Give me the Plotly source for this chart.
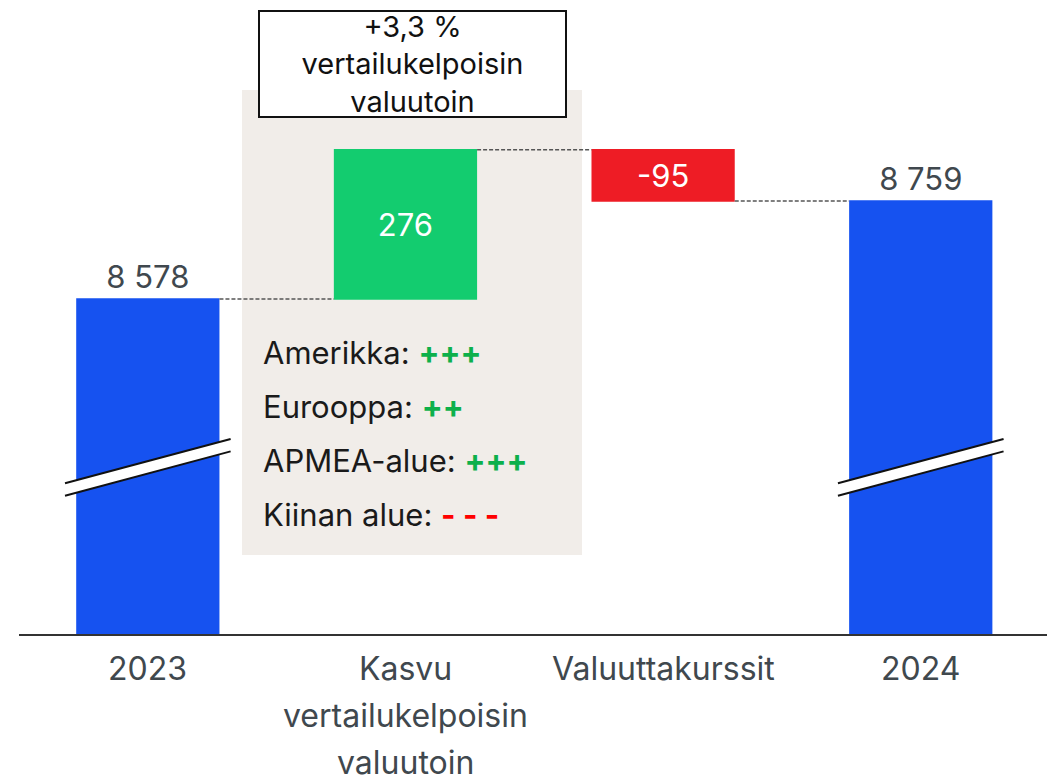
import plotly.graph_objects as go

# ---------------- data ----------------
CATEGORIES = ["2023", "Kasvu vertailukelpoisin valuutoin", "Valuuttakurssit", "2024"]
CATEGORY_LINES = [["2023"], ["Kasvu", "vertailukelpoisin", "valuutoin"], ["Valuuttakurssit"], ["2024"]]
VALUES = [8578, 276, -95, 8759]
MEASURES = ["absolute", "relative", "relative", "total"]
VALUE_LABELS = ["8 578", "276", "-95", "8 759"]
BOX_TEXT = ["+3,3 %", "vertailukelpoisin", "valuutoin"]
REGIONS = ["Amerikka", "Eurooppa", "APMEA-alue", "Kiinan alue"]
REGION_SIGNS = ["+++", "++", "+++", "- - -"]

# ---------------- style ----------------
FONT = "Inter"
BLUE = "#1652F0"
GREEN = "#13CC6F"
RED = "#EE1C25"
BEIGE = "#F1EDE9"
PLUS_GREEN = "#0DB04B"
MINUS_RED = "#FF0000"
LABEL_GRAY = "#40484E"

W, H = 1047, 777
ML, MR, MT, MB = 19, 0, 0, 143
PLOT_H = H - MT - MB
PLOT_W = W - ML - MR
X_RANGE = [-0.5, 3.49]
Y_MIN, Y_MAX = 7958, 9131
PX_PER_CAT = PLOT_W / (X_RANGE[1] - X_RANGE[0])


def py(px):
    """pixel row (from top of plot area) -> paper y"""
    return 1 - px / PLOT_H


def pxx(px):
    """pixel column (absolute) -> category x coordinate"""
    return (px - ML) / PX_PER_CAT + X_RANGE[0]


fig = go.Figure()

fig.add_trace(go.Waterfall(
    x=CATEGORIES,
    y=VALUES,
    measure=MEASURES,
    text=VALUE_LABELS,
    textposition=["outside", "inside", "inside", "outside"],
    insidetextanchor="middle",
    textfont=dict(family=FONT, size=31),
    insidetextfont=dict(family=FONT, size=31, color="white"),
    outsidetextfont=dict(family=FONT, size=31, color=LABEL_GRAY),
    constraintext="none",
    cliponaxis=False,
    width=0.556,
    increasing=dict(marker=dict(color=GREEN)),
    decreasing=dict(marker=dict(color=RED)),
    totals=dict(marker=dict(color=BLUE)),
    connector=dict(mode="between", line=dict(color="#555555", width=1.5, dash="4px,2px")),
    hoverinfo="skip",
    showlegend=False,
))

shapes = []
# beige background panel behind the growth bar
shapes.append(dict(type="rect", xref="x", yref="paper", layer="below",
                   x0=pxx(242), x1=pxx(582), y0=py(555), y1=py(90),
                   fillcolor=BEIGE, line=dict(width=0)))

# axis break marks on the two total bars
for cx in (0, 3):
    half = 82.8 / PX_PER_CAT
    xl, xr = cx - half, cx + half
    yt_l, yt_r = py(483.3), py(439.0)
    yb_l, yb_r = py(495.7), py(451.4)
    shapes.append(dict(type="path", xref="x", yref="paper", layer="above",
                       path=f"M {xl},{yt_l} L {xr},{yt_r} L {xr},{yb_r} L {xl},{yb_l} Z",
                       fillcolor="white", line=dict(width=0)))
    shapes.append(dict(type="line", xref="x", yref="paper", layer="above",
                       x0=xl, x1=xr, y0=yt_l, y1=yt_r, line=dict(color="#111111", width=2)))
    shapes.append(dict(type="line", xref="x", yref="paper", layer="above",
                       x0=xl, x1=xr, y0=yb_l, y1=yb_r, line=dict(color="#111111", width=2)))

annotations = []
# category labels (manual multi-line with wide spacing)
for i, lines in enumerate(CATEGORY_LINES):
    for j, line in enumerate(lines):
        annotations.append(dict(x=i, xref="x", y=0, yref="paper",
                                yanchor="middle", xanchor="center", yshift=-34 - 47 * j,
                                text=line, showarrow=False,
                                font=dict(family=FONT, size=32, color=LABEL_GRAY)))

# boxed comparable-growth note
annotations.append(dict(x=pxx(412.5), xref="x", y=py(64), yref="paper",
                        xanchor="center", yanchor="middle",
                        text="<br>".join(BOX_TEXT), showarrow=False,
                        width=305, height=104, align="center",
                        bgcolor="white", bordercolor="#111111", borderwidth=2, borderpad=0,
                        font=dict(family=FONT, size=29, color="#111111")))

# regional breakdown
for k, (reg, sign) in enumerate(zip(REGIONS, REGION_SIGNS)):
    col = MINUS_RED if "-" in sign else PLUS_GREEN
    annotations.append(dict(x=pxx(261), xref="x", y=py(352 + 54 * k), yref="paper",
                            xanchor="left", yanchor="middle", showarrow=False,
                            text=f"{reg}: <span style='color:{col}'><b>{sign}</b></span>",
                            font=dict(family=FONT, size=31, color="#1A1A1A")))

fig.update_layout(
    width=W, height=H,
    margin=dict(l=ML, r=MR, t=MT, b=MB, pad=0),
    paper_bgcolor="white", plot_bgcolor="white",
    font=dict(family=FONT),
    shapes=shapes,
    annotations=annotations,
    xaxis=dict(type="category", range=X_RANGE, showticklabels=False, ticks="",
               showgrid=False, zeroline=False, showline=True, linecolor="#333333",
               linewidth=2, fixedrange=True),
    yaxis=dict(range=[Y_MIN, Y_MAX], visible=False, showgrid=False, zeroline=False,
               fixedrange=True),
)

fig.write_html("out.html", config={"displayModeBar": False},
               post_script="document.body.style.margin='0';document.body.style.overflow='hidden';")
